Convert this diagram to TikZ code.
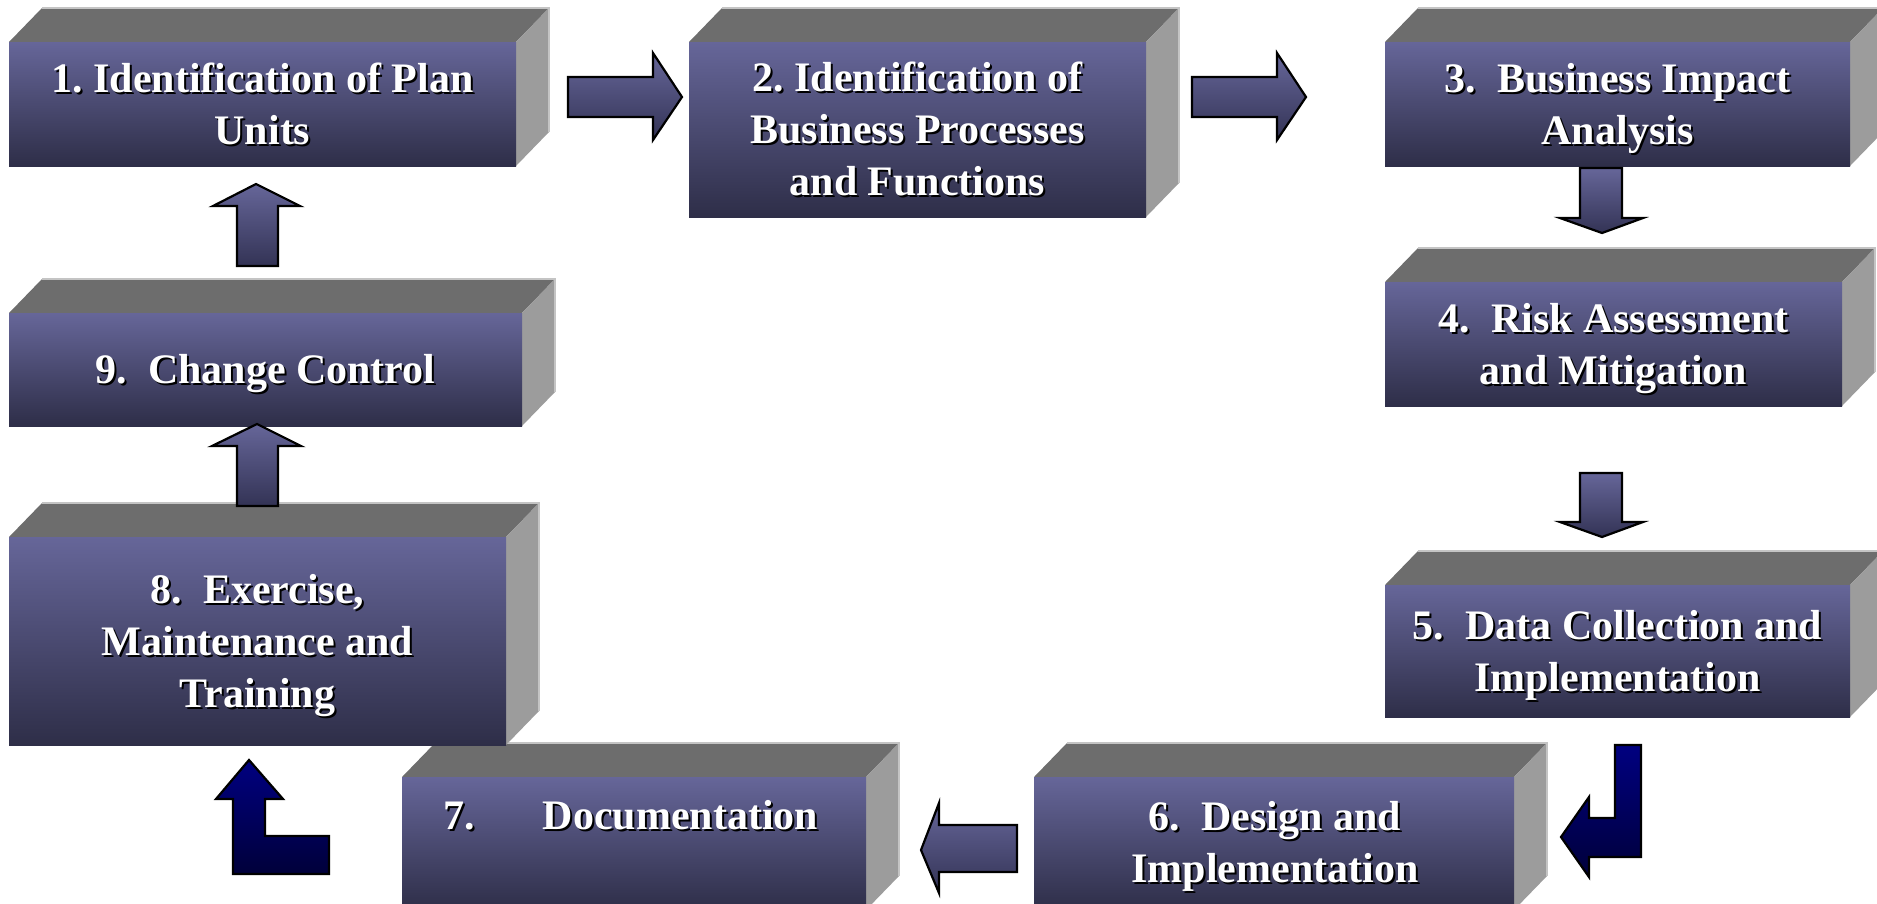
\documentclass[tikz,border=0pt]{standalone}
\usepackage{fontspec}
\setmainfont{Liberation Serif}
\usetikzlibrary{calc}
\frenchspacing

\definecolor{facetop}{HTML}{666699}
\definecolor{facebot}{HTML}{2E2E48}
\definecolor{lidgray}{HTML}{6D6D6D}
\definecolor{sidegray}{HTML}{9C9C9C}
\definecolor{edgelight}{HTML}{C4C4C4}
\definecolor{arrowbot}{HTML}{333355}
\definecolor{navytop}{HTML}{000080}
\definecolor{navybot}{HTML}{00003A}

\tikzset{
  lid/.style={fill=lidgray},
  sideface/.style={fill=sidegray},
  rim/.style={draw=edgelight, line width=1.3pt},
  frontface/.style={draw=none, top color=facetop, bottom color=facebot,
    inner sep=0pt, outer sep=0pt, anchor=north west},
  caption/.style={font=\fontsize{42}{52}\selectfont\bfseries, align=center,
    inner sep=0pt, text=white},
  capshadow/.style={caption, text=black},
  blockarrow/.style={draw=black, line width=2.2pt, line join=miter,
    top color=facetop, bottom color=arrowbot},
  navyarrow/.style={draw=black, line width=2.2pt, line join=miter,
    top color=navytop, bottom color=navybot},
}

% one extruded block: name, left, top, right, bottom (front face)
\newcommand\slab[5]{%
  \fill[lid] (#2,#3) -- ({#2+33},{#3-34}) -- ({#4+33},{#3-34}) -- (#4,#3) -- cycle;
  \fill[sideface] (#4,#3) -- ({#4+33},{#3-34}) -- ({#4+33},{#5-34}) -- (#4,#5) -- cycle;
  \draw[rim] ({#2+33},{#3-34}) -- ({#4+33},{#3-34}) -- ({#4+33},{#5-34});
  \node[frontface, minimum width={(#4-#2)*1pt}, minimum height={(#5-#3)*1pt}]
    (#1) at (#2,#3) {};
}
% white caption with a black drop shadow: name, position, lines
\newcommand\slabtext[3]{%
  \node[capshadow] at ($#2+(2,2)$) {#3};
  \node[caption] (#1) at #2 {#3};
}
\newcommand\capline[1]{\smash{#1}}

\begin{document}
\begin{tikzpicture}[x=1pt, y=-1pt]
\useasboundingbox (0,0) rectangle (1877,903);
\clip (0,0) rectangle (1877,903);

% blocks
\slab{b1}{9}{42}{516}{166}
\slab{b2}{689}{42}{1146}{217}
\slab{b3}{1385}{42}{1850}{166}
\slab{b4}{1385}{282}{1842}{406}
\slab{b5}{1385}{585}{1850}{717}
\slab{b6}{1034}{777}{1514}{910}
\slab{b7}{402}{777}{866}{910}
\slab{b8}{9}{537}{506}{745}
\slab{b9}{9}{313}{522}{426}

% captions
\slabtext{t1}{($(b1.center)+(0,14)$)}{\capline{1. Identification of Plan}\\\capline{Units}}
\slabtext{t2}{($(b2.center)+(0,14)$)}{\capline{2. Identification of}\\\capline{Business Processes}\\\capline{and Functions}}
\slabtext{t3}{($(b3.center)+(0,14)$)}{\capline{3.\ \ Business Impact}\\\capline{Analysis}}
\slabtext{t4}{($(b4.center)+(0,14)$)}{\capline{4.\ \ Risk Assessment}\\\capline{and Mitigation}}
\slabtext{t5}{($(b5.center)+(0,14)$)}{\capline{5.\ \ Data Collection and}\\\capline{Implementation}}
\slabtext{t6}{(1275,856)}{\capline{6.\ \ Design and}\\\capline{Implementation}}
\slabtext{t7}{(631,829)}{\capline{7.\hspace{67.5pt}Documentation}}
\slabtext{t8}{($(b8.center)+(0,14)$)}{\capline{8.\ \ Exercise,}\\\capline{Maintenance and}\\\capline{Training}}
\slabtext{t9}{($(b9.center)+(0,14)$)}{\capline{9.\ \ Change Control}}

% block arrows between the steps
\draw[blockarrow] (568,77) -- (653,77) -- (653,53) -- (682,97) -- (653,140)
  -- (653,117) -- (568,117) -- cycle;
\draw[blockarrow] (1192,77) -- (1277,77) -- (1277,53) -- (1306,97) -- (1277,140)
  -- (1277,117) -- (1192,117) -- cycle;
\draw[blockarrow] (1580,168) -- (1622,168) -- (1622,218) -- (1643,218) -- (1602,233)
  -- (1560,218) -- (1580,218) -- cycle;
\draw[blockarrow] (1580,473) -- (1622,473) -- (1622,522) -- (1643,522) -- (1602,537)
  -- (1560,522) -- (1580,522) -- cycle;
\draw[navyarrow] (1615,745) -- (1641,745) -- (1641,857) -- (1589,857) -- (1589,877)
  -- (1561,837) -- (1589,797) -- (1589,818) -- (1615,818) -- cycle;
\draw[blockarrow] (1017,825) -- (1017,872) -- (939,872) -- (939,893) -- (921,850)
  -- (939,803) -- (939,825) -- cycle;
\draw[navyarrow] (249,760) -- (283,799) -- (265,799) -- (265,836) -- (329,836)
  -- (329,874) -- (233,874) -- (233,799) -- (216,799) -- cycle;
\draw[blockarrow] (257,424) -- (301,446) -- (278,446) -- (278,506) -- (237,506)
  -- (237,446) -- (212,446) -- cycle;
\draw[blockarrow] (256,184) -- (300,206) -- (278,206) -- (278,266) -- (237,266)
  -- (237,206) -- (213,206) -- cycle;
\end{tikzpicture}
\end{document}
